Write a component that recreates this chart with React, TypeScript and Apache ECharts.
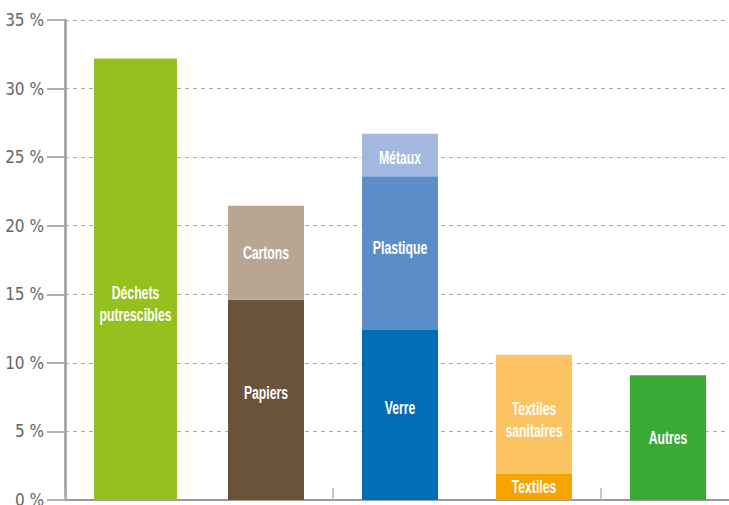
import React, { useEffect, useRef } from "react";
import * as echarts from "echarts";

const categories = ["Déchets putrescibles", "Papiers-cartons", "Verre-plastique-métaux", "Textiles", "Autres"];
const yTicks = [0, 5, 10, 15, 20, 25, 30, 35];

const dechets = [32.2, null, null, null, null];
const papiers = [null, 14.6, null, null, null];
const cartons = [null, 6.85, null, null, null];
const verre = [null, null, 12.4, null, null];
const plastique = [null, null, 11.2, null, null];
const metaux = [null, null, 3.1, null, null];
const textiles = [null, null, null, 1.9, null];
const sanitaires = [null, null, null, 8.7, null];
const autres = [null, null, null, null, 9.1];

const AXIS_FONT = "'DejaVu Sans Condensed', sans-serif";
const LABEL_FONT = "'Liberation Sans', Arial, sans-serif";

type Seg = { name: string; data: (number | null)[]; color: string; label: string; axis: number; dy: number };

const segments: Seg[] = [
  { name: "Déchets putrescibles", data: dechets, color: "#95c11f", label: "Déchets\nputrescibles", axis: 1, dy: 24 },
  { name: "Papiers", data: papiers, color: "#6b523a", label: "Papiers", axis: 0, dy: -7 },
  { name: "Cartons", data: cartons, color: "#b9a692", label: "Cartons", axis: 0, dy: 0 },
  { name: "Verre", data: verre, color: "#006db4", label: "Verre", axis: 0, dy: -7 },
  { name: "Plastique", data: plastique, color: "#5b8ec9", label: "Plastique", axis: 0, dy: -6 },
  { name: "Métaux", data: metaux, color: "#a3b8e0", label: "Métaux", axis: 0, dy: 2 },
  { name: "Textiles", data: textiles, color: "#f5a400", label: "Textiles", axis: 0, dy: 0 },
  { name: "Textiles sanitaires", data: sanitaires, color: "#fbc362", label: "Textiles\nsanitaires", axis: 0, dy: 5 },
  { name: "Autres", data: autres, color: "#3aaa35", label: "Autres", axis: 0, dy: 0 },
];

export default function App() {
  const ref = useRef<HTMLDivElement>(null);
  useEffect(() => {
    if (!ref.current) return;
    const chart = echarts.init(ref.current, undefined, { renderer: "svg" });
    chart.setOption({
      animation: false,
      grid: [
        { left: 65, right: 5, top: 20, bottom: 5, containLabel: false, outerBoundsMode: "none" },
        { left: 68.5, right: 1.5, top: 20, bottom: 5, containLabel: false, outerBoundsMode: "none" },
      ],
      xAxis: [
        {
          type: "category",
          gridIndex: 0,
          data: categories,
          axisLine: { show: true, lineStyle: { color: "#9a9a9a", width: 2 } },
          axisTick: { show: true, inside: true, length: 12, lineStyle: { color: "#b5b5b5", width: 1.5 } },
          axisLabel: { show: false },
        },
        { type: "category", gridIndex: 1, data: categories, show: false },
      ],
      yAxis: [
        {
          type: "value",
          gridIndex: 0,
          min: 0,
          max: 35,
          interval: 5,
          axisLine: { show: true, lineStyle: { color: "#9a9a9a", width: 2.5 } },
          axisTick: { show: true, inside: false, length: 18, lineStyle: { color: "#b0b0b0", width: 2 } },
          axisLabel: {
            margin: 21,
            color: "#666666",
            fontFamily: AXIS_FONT,
            fontSize: 17,
            formatter: (v: number) => (yTicks.includes(v) ? v + " %" : ""),
          },
          splitLine: { show: true, lineStyle: { color: "#b0b0b0", type: [4, 4], width: 1 } },
        },
        { type: "value", gridIndex: 1, min: 0, max: 35, interval: 5, show: false, splitLine: { show: false } },
      ],
      series: segments.map((s) => ({
        name: s.name,
        type: "bar",
        stack: "total",
        xAxisIndex: s.axis,
        yAxisIndex: s.axis,
        barWidth: s.axis === 1 ? 83 : 76,
        data: s.data.map((v) => (v === null ? "-" : v)),
        itemStyle: { color: s.color },
        label: { show: false },
      })),
    });

    const cum = [0, 0, 0, 0, 0];
    const texts: any[] = [];
    segments.forEach((s) => {
      s.data.forEach((v, i) => {
        if (v === null) return;
        const mid = cum[i] + v / 2;
        cum[i] += v;
        const p = chart.convertToPixel({ xAxisIndex: s.axis, yAxisIndex: s.axis } as any, [i, mid]) as number[];
        texts.push({
          type: "text",
          x: p[0],
          y: p[1] + s.dy,
          scaleX: 0.68,
          z: 10,
          style: {
            text: s.label,
            fill: "#ffffff",
            font: `bold 18px ${LABEL_FONT}`,
            align: "center",
            verticalAlign: "middle",
            lineHeight: 22,
          },
        });
      });
    });
    chart.setOption({ graphic: texts });
    return () => chart.dispose();
  }, []);
  return (
    <div style={{ position: "absolute", left: 0, top: 0, width: 729, height: 505, overflow: "hidden" }}>
      <div ref={ref} style={{ width: 740, height: 505 }} />
    </div>
  );
}
